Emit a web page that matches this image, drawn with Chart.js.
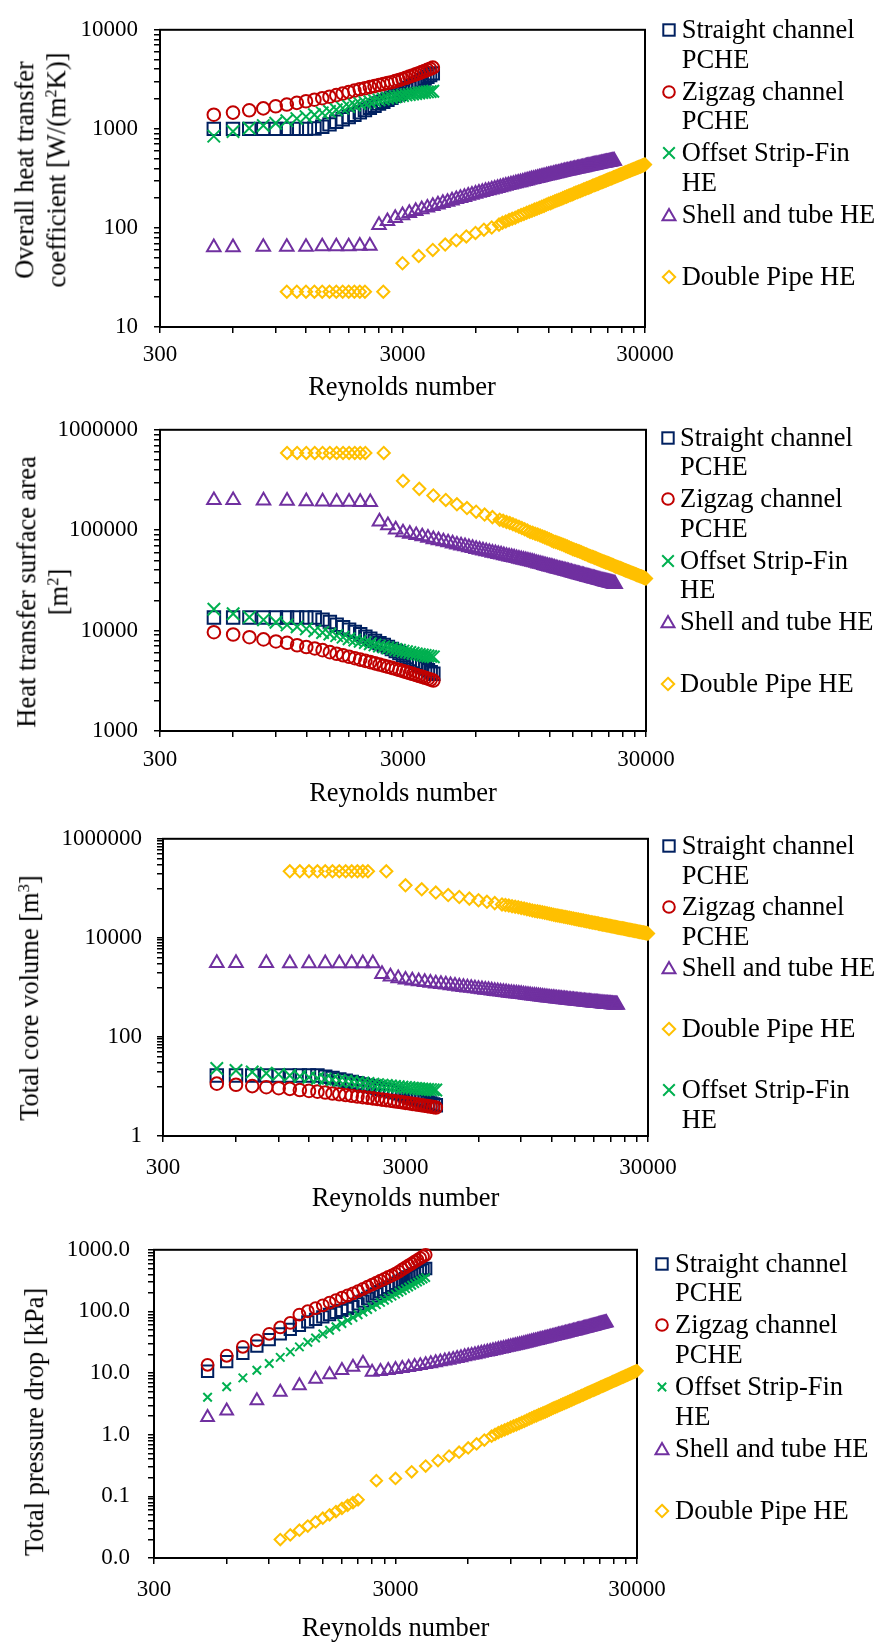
<!DOCTYPE html>
<html><head><meta charset="utf-8">
<script src="https://cdn.jsdelivr.net/npm/chart.js@4.4.1/dist/chart.umd.min.js"></script>
<style>
html,body{margin:0;padding:0;background:#fff;}
body{width:883px;height:1648px;position:relative;overflow:hidden;font-family:"Liberation Serif","Times New Roman",serif;color:#000;}
canvas{position:absolute;left:0;}
.t{position:absolute;white-space:nowrap;font-size:26.5px;line-height:31.7px;text-align:center;}
.yt{transform:translate(-50%,-50%) rotate(-90deg);}
.xt{transform:translate(-50%,-50%);}
.leg{position:absolute;white-space:nowrap;font-size:26.5px;line-height:29.5px;}
sup{font-size:0.62em;line-height:0;vertical-align:0.55em;}
</style></head>
<body>
<script>
// ---------------- categories (Reynolds numbers) ----------------
const pcheRe = [500,600,700,800,900,1000,1100,1200,1300,1400,1500,1600,1700,1800,1900,2000,2100,2200,2300,2400,2500,2600,2700,2800,2900,3000,3100,3200,3300,3400,3500,3600,3700,3800,3900,4000];
const shellRe = [500,600,800,1000,1200,1400,1600,1800,2000,2200,
2400,2600,2800,3000,3200,3400,3600,3800,4000,
4200,4400,4600,4800,5000,5200,5400,5600,5800,6000,
6200,6400,6600,6800,7000,7200,7400,7600,7800,8000,
8200,8400,8600,8800,9000,9200,9400,9600,9800,10000,
10200,10400,10600,10800,11000,11200,11400,11600,11800,12000,
12200,12400,12600,12800,13000,13200,13400,13600,13800,14000,
14200,14400,14600,14800,15000,15200,15400,15600,15800,16000,
16200,16400,16600,16800,17000,17200,17400,17600,17800,18000,
18200,18400,18600,18800,19000,19200,19400,19600,19800,20000,
20200,20400,20600,20800,21000,21200,21400,21600,21800,22000,
22200,22400];
const pipeRe = [1000,1100,1200,1300,1400,1500,1600,1700,1800,1900,2000,2100,2500,
3000,3500,4000,4500,5000,5500,6000,6500,7000,7500,
7750,8000,8250,8500,8750,9000,9250,9500,9750,10000,
10250,10500,10750,11000,11250,11500,11750,12000,12250,12500,
12750,13000,13250,13500,13750,14000,14250,14500,14750,15000,
15250,15500,15750,16000,16250,16500,16750,17000,17250,17500,
17750,18000,18250,18500,18750,19000,19250,19500,19750,20000,
20250,20500,20750,21000,21250,21500,21750,22000,22250,22500,
22750,23000,23250,23500,23750,24000,24250,24500,24750,25000,
25250,25500,25750,26000,26250,26500,26750,27000,27250,27500,
27750,28000,28250,28500,28750,29000,29250,29500,29750,30000];

// ---------------- Panel 1: overall heat transfer coefficient [W/(m2K)] ----------------
const straightU = [1000,1000,1000,1000,1000,1000,1000,1000,1010,1050,1110,1180,1250,1320,1390,1470,1550,1630,1710,1800,1880,1970,2060,2160,2260,2370,2480,2590,2710,2830,2960,3090,3220,3360,3500,3630];
const zigzagU = [1390,1460,1540,1610,1690,1760,1830,1900,1970,2040,2110,2190,2270,2350,2430,2510,2570,2640,2700,2770,2830,2900,2960,3030,3110,3190,3280,3370,3460,3550,3640,3740,3840,3940,4040,4150];
const finU = [845,940,1015,1080,1140,1210,1270,1330,1390,1450,1500,1560,1620,1680,1740,1800,1840,1880,1920,1960,2000,2040,2070,2110,2140,2170,2200,2220,2250,2270,2300,2320,2340,2360,2380,2400];
const shellU = [63.8,63.8,64.3,64.3,64.3,65,65,65,66,66,
107,117,126,134,141,148,154,160,166,
172,178,183,189,195,200,205,211,216,221,
226,230,235,239,244,248,253,257,262,266,
270,274,278,282,286,289,293,297,301,305,
309,312,316,319,323,326,330,333,337,340,
343,346,350,353,356,359,362,366,369,372,
375,378,380,383,386,389,392,394,397,400,
403,405,408,410,413,416,418,421,423,426,
428,431,433,436,438,440,443,445,448,450,
452,454,457,459,461,463,465,468,470,472,
474,476];
const pipeU = [22.7,22.7,22.7,22.7,22.7,22.7,22.7,22.7,22.7,22.7,22.7,22.7,22.7,
44,52,60,68,75,82,89,96,101,108,
113,116,120,124,127,131,135,138,142,146,
149,153,156,160,164,167,171,175,178,182,
186,189,193,196,200,204,207,211,215,218,
222,226,229,233,236,240,244,247,251,255,
258,262,266,269,273,276,280,284,287,291,
295,298,302,306,309,313,316,320,324,327,
331,335,338,342,346,349,353,356,360,364,
367,371,375,378,382,386,389,393,396,400,
404,407,411,415,418,422,426,429,433,436];

// ---------------- Panel 2: heat transfer surface area [m2] ----------------
const straightA = [13500,13500,13500,13500,13500,13500,13500,13500,13500,12860,12160,11440,10800,10230,9710,9180,8710,8280,7890,7500,7180,6850,6550,6250,5970,5700,5440,5210,4980,4770,4560,4370,4190,4020,3860,3720];
const zigzagA = [9640,9150,8600,8170,7800,7560,7150,6870,6640,6390,6100,5880,5680,5490,5310,5140,4990,4850,4720,4590,4470,4360,4250,4150,4050,3950,3860,3770,3690,3610,3530,3460,3390,3320,3250,3180];
const finA = [16300,14700,13600,12800,12100,11400,10900,10400,9950,9550,9250,8900,8600,8300,8050,7820,7600,7400,7200,7030,6880,6740,6610,6490,6370,6250,6150,6050,5960,5870,5790,5720,5650,5590,5530,5480];
const shellA = [199000,199000,197000,196000,194000,193000,192000,192000,191000,190000,
122000,112000,101600,95000,92000,89200,86600,84000,81100,
79200,77300,75500,73600,71700,70300,69000,67600,66300,64900,
63800,62800,61700,60700,59600,58800,57900,57100,56200,55400,
54700,54000,53300,52600,51900,51300,50700,50200,49600,49000,
48400,47800,47200,46600,46100,45600,45000,44500,44000,43500,
43100,42600,42200,41700,41300,40900,40500,40200,39800,39400,
39100,38700,38400,38000,37650,37300,37000,36700,36400,36100,
35800,35500,35300,35000,34700,34400,34200,33900,33700,33400,
33200,33000,32700,32500,32300,32100,31900,31600,31400,31200,
31000,30800,30600,30400,30250,30100,29900,29700,29600,29400,
29200,29060];
const pipeA = [588000,588000,588000,588000,588000,588000,588000,588000,588000,588000,588000,588000,588000,
310000,258000,222000,200000,181000,166000,153000,143000,135000,127000,
124000,120900,117800,114700,111600,108500,105400,102300,99200,96100,
94200,92300,90500,88600,86700,84800,82900,81100,79200,77300,
76100,74800,73600,72300,71100,69800,68600,67300,66100,64800,
63900,63000,62100,61200,60300,59300,58400,57500,56600,55700,
55000,54300,53700,53000,52300,51600,50900,50300,49600,48900,
48400,47800,47300,46800,46300,45700,45200,44700,44100,43600,
43200,42800,42300,41900,41500,41100,40700,40200,39800,39400,
39100,38700,38400,38000,37700,37300,37000,36600,36300,35900,
35600,35300,35000,34700,34500,34200,33900,33600,33300,33000];

// ---------------- Panel 3: total core volume [m3] ----------------
const straightV = [16.6,16.6,16.6,16.6,16.6,16.6,16.6,16.6,16.6,15.76,14.84,13.91,13.07,12.34,11.67,10.98,10.39,9.84,9.34,8.85,8.45,8.03,7.66,7.28,6.93,6.60,6.28,5.99,5.71,5.45,5.20,4.97,4.75,4.54,4.35,4.18];
const zigzagV = [11.40,10.82,10.17,9.67,9.23,8.94,8.46,8.13,7.86,7.56,7.22,6.96,6.72,6.49,6.28,6.08,5.90,5.74,5.58,5.43,5.29,5.16,5.03,4.91,4.79,4.67,4.57,4.46,4.37,4.27,4.18,4.09,4.01,3.93,3.84,3.76];
const finV = [23.1,21.0,19.56,18.50,17.56,16.62,15.95,15.28,14.67,14.13,13.72,13.24,12.83,12.42,12.07,11.75,11.45,11.17,10.89,10.66,10.45,10.25,10.07,9.90,9.73,9.56,9.42,9.28,9.15,9.03,8.91,8.81,8.72,8.63,8.55,8.47];
const shellV = [3100,3100,3100,3050,3050,3050,3050,3050,3050,3050,
1850,1660,1520,1430,1375,1325,1280,1240,1200,
1168,1136,1104,1072,1040,1018,996,974,952,930,
913,896,879,862,845,832,819,806,793,780,
770,760,750,740,730,720,710,700,690,680,
673,666,660,653,646,639,632,626,619,612,
607,602,597,592,587,582,577,572,567,562,
558,554,550,546,543,539,535,531,527,523,
520,517,514,511,508,505,502,499,496,493,
491,488,486,483,481,478,476,473,471,468,
466,464,462,460,459,457,455,453,451,449,
448,446];
const pipeV = [221000,221000,221000,221000,221000,221000,221000,221000,221000,221000,221000,221000,221000,
115000,95500,82300,73000,66800,62000,57500,53500,50300,47300,
46000,44850,43700,42550,41400,40250,39100,37950,36800,35650,
34950,34260,33560,32860,32170,31470,30770,30080,29380,28680,
28220,27750,27290,26820,26360,25900,25430,24970,24500,24040,
23700,23360,23030,22690,22350,22010,21670,21340,21000,20660,
20410,20160,19900,19650,19400,19150,18900,18640,18390,18140,
17940,17750,17550,17360,17160,16960,16770,16570,16380,16180,
16020,15870,15710,15560,15400,15240,15090,14930,14780,14620,
14490,14360,14230,14100,13970,13840,13710,13580,13450,13320,
13210,13100,12990,12890,12780,12670,12560,12460,12350,12240];

// ---------------- Panel 4: total pressure drop [kPa] ----------------
const straightP = [10.7,15.3,21.0,27.4,34.8,43.3,51.3,59.5,67.5,74.5,81.8,89.2,96.7,104.4,112.2,120,133,147,162,177,193,210,227,246,265,285,304,323,343,363,384,405,427,450,473,497];
const zigzagP = [13.6,19.1,26.7,34,43.4,55,65,89,100.8,113,125.8,139,152.7,166.9,181.4,196,214,233,253,273,294,316,338,362,385,410,444,480,518,557,598,641,685,732,780,830];
const finP = [4.05,5.99,8.35,11.13,14.33,17.98,22.07,26.6,31.6,37.1,43.0,49.4,56.3,63.6,71.5,79.8,88.6,97.9,107.8,118.1,129,140.3,152.1,164.5,177.4,190.9,204.8,219.2,234.1,249.7,265.8,282.3,299.5,317.1,335.4,354.2];
const shellP = [1.92,2.44,3.59,4.92,6.25,7.98,9.45,11.1,12.5,14.5,
10.4,10.7,11.1,11.5,11.9,12.4,12.9,13.3,13.8,
14.3,14.8,15.3,15.8,16.3,16.8,17.4,17.9,18.5,19.0,
19.5,20.0,20.6,21.1,21.6,22.1,22.6,23.2,23.7,24.2,
24.7,25.3,25.8,26.4,26.9,27.4,28.0,28.5,29.1,29.6,
30.2,30.7,31.3,31.8,32.4,33.0,33.5,34.1,34.6,35.2,
35.8,36.4,36.9,37.5,38.1,38.7,39.3,39.8,40.4,41.0,
41.6,42.2,42.7,43.3,43.9,44.5,45.1,45.6,46.2,46.8,
47.4,48.0,48.5,49.1,49.7,50.3,50.9,51.4,52.0,52.6,
53.2,53.8,54.4,55.0,55.6,56.2,56.8,57.4,58.0,58.6,
59.2,59.8,60.4,61.0,61.6,62.2,62.8,63.4,64.0,64.6,
65.2,65.8];
const pipeP = [0.0199,0.0237,0.0283,0.0330,0.0384,0.0442,0.0501,0.0566,0.0636,0.0713,0.0790,0.0880,0.18,
0.195,0.25,0.31,0.38,0.45,0.52,0.61,0.71,0.82,0.95,
1.01,1.08,1.14,1.20,1.26,1.33,1.39,1.45,1.51,1.58,
1.65,1.73,1.80,1.88,1.96,2.03,2.11,2.18,2.26,2.33,
2.42,2.51,2.60,2.69,2.78,2.86,2.95,3.04,3.13,3.22,
3.32,3.42,3.52,3.62,3.72,3.82,3.92,4.02,4.12,4.22,
4.33,4.44,4.56,4.67,4.78,4.89,5.00,5.12,5.23,5.34,
5.46,5.58,5.71,5.83,5.95,6.08,6.20,6.32,6.45,6.57,
6.70,6.84,6.97,7.10,7.24,7.37,7.51,7.64,7.77,7.91,
8.05,8.20,8.34,8.49,8.63,8.78,8.92,9.06,9.21,9.35,
9.51,9.66,9.82,9.97,10.13,10.28,10.44,10.59,10.75,10.90];

// ---------------- ticks ----------------
const xTickValues = [300,600,900,1200,1500,1800,2100,2400,2700,3000,6000,9000,12000,15000,18000,21000,24000,27000,30000];
const xMajorValues = [300,3000,30000];
const xMajorLabels = ['300','3000','30000'];
const y1TickValues = [10,20,30,40,50,60,70,80,90,100,200,300,400,500,600,700,800,900,1000,2000,3000,4000,5000,6000,7000,8000,9000,10000];
const y1MajorValues = [10,100,1000,10000];
const y1MajorLabels = ['10','100','1000','10000'];
const y2TickValues = [1000,2000,3000,4000,5000,6000,7000,8000,9000,10000,20000,30000,40000,50000,60000,70000,80000,90000,100000,200000,300000,400000,500000,600000,700000,800000,900000,1000000];
const y2MajorValues = [1000,10000,100000,1000000];
const y2MajorLabels = ['1000','10000','100000','1000000'];
const y3TickValues = [1,10,20,30,40,50,60,70,80,90,100,1000,2000,3000,4000,5000,6000,7000,8000,9000,10000,100000,200000,300000,400000,500000,600000,700000,800000,900000,1000000];
const y3MajorValues = [1,100,10000,1000000];
const y3MajorLabels = ['1','100','10000','1000000'];
const y4TickValues = [0.01,0.02,0.03,0.04,0.05,0.06,0.07,0.08,0.09,0.1,0.2,0.3,0.4,0.5,0.6,0.7,0.8,0.9,1,2,3,4,5,6,7,8,9,10,20,30,40,50,60,70,80,90,100,200,300,400,500,600,700,800,900,1000];
const y4MajorValues = [0.01,0.1,1,10,100,1000];
const y4MajorLabels = ['0.0','0.1','1.0','10.0','100.0','1000.0'];

// ---------------- series look ----------------
const SER = {
  straight:{name:'Straight channel PCHE', lines:['Straight channel','PCHE'], color:'#002060', style:'rect', re:pcheRe},
  zigzag:{name:'Zigzag channel PCHE', lines:['Zigzag channel','PCHE'], color:'#C00000', style:'circle', re:pcheRe},
  fin:{name:'Offset Strip-Fin HE', lines:['Offset Strip-Fin','HE'], color:'#00B050', style:'crossRot', re:pcheRe},
  shell:{name:'Shell and tube HE', lines:['Shell and tube HE'], color:'#7030A0', style:'triangle', re:shellRe},
  pipe:{name:'Double Pipe HE', lines:['Double Pipe HE'], color:'#FFC000', style:'rectRot', re:pipeRe}
};

Chart.defaults.font.family = '"Liberation Serif","Times New Roman",serif';
Chart.defaults.color = '#000';

const framePlugin = {id:'frame', beforeDatasetsDraw(chart){
  const {ctx, chartArea:a} = chart; ctx.save(); ctx.strokeStyle='#000'; ctx.lineWidth=2;
  ctx.strokeRect(a.left, a.top, a.right-a.left, a.bottom-a.top); ctx.restore(); }};

function near(a,b){ return Math.abs(a-b) <= Math.abs(b)*1e-6; }
function labelOf(v, vals, labs){ for(let i=0;i<vals.length;i++){ if(near(v, vals[i])) return labs[i]; } return ''; }

function makePanel(p){
  const cv = document.createElement('canvas');
  cv.width = 883; cv.height = p.h; cv.style.top = p.top + 'px';
  cv.style.width='883px'; cv.style.height=p.h+'px';
  document.body.appendChild(cv);
  const n = p.series.length;
  const datasets = p.series.map((s,i)=>{
    const S = SER[s.key];
    const r = p.radius[S.style];
    return {label:S.name, data:S.re.map((x,j)=>({x:x, y:s.values[j]})),
      pointStyle:S.style, pointRadius:r, pointHoverRadius:r, borderColor:S.color, pointBorderColor:S.color,
      backgroundColor:'rgba(0,0,0,0)', pointBackgroundColor:'rgba(0,0,0,0)', pointBorderWidth:2, borderWidth:2,
      showLine:false, clip:false, order:n-i};
  });
  const tickFont = {family:'"Liberation Serif","Times New Roman",serif', size:23};
  new Chart(cv, {type:'scatter', data:{datasets},
    plugins:[framePlugin],
    options:{responsive:false, animation:false, devicePixelRatio:1, events:[],
      layout:{padding:{left:0, top:p.plotTop, right:883-p.plotRight, bottom:0}},
      plugins:{legend:{display:false}, tooltip:{enabled:false}},
      scales:{
        x:{type:'logarithmic', position:'bottom', min:300, max:30000,
          afterBuildTicks:(s)=>{ s.ticks = xTickValues.map(v=>({value:v})); },
          afterFit:(s)=>{ s.height = p.h - p.plotBottom; },
          ticks:{autoSkip:false, maxRotation:0, minRotation:0, padding:p.xpad, color:'#000', font:tickFont,
            callback:(v)=>labelOf(v, xMajorValues, xMajorLabels)},
          grid:{drawOnChartArea:false, drawTicks:true, tickLength:6, color:'#000', lineWidth:1.5},
          border:{display:true, color:'#000', width:2}},
        y:{type:'logarithmic', position:'left', min:p.ymin, max:p.ymax,
          afterBuildTicks:(s)=>{ s.ticks = p.yTicks.map(v=>({value:v})); },
          afterFit:(s)=>{ s.width = p.plotLeft; },
          ticks:{autoSkip:false, padding:p.ypad, color:'#000', font:tickFont,
            callback:(v)=>labelOf(v, p.yMajor, p.yLabels)},
          grid:{drawOnChartArea:false, drawTicks:true, tickLength:6, color:'#000', lineWidth:1.5},
          border:{display:true, color:'#000', width:2}}
      }}
  });
}

function addText(html, cx, cy, cls){
  const d = document.createElement('div'); d.className = 't ' + cls; d.innerHTML = html;
  d.style.left = cx + 'px'; d.style.top = cy + 'px'; document.body.appendChild(d);
}
function markerSvg(style, color, k){
  let shape = '';
  if(style==='rect'){ const h=5.7*k; shape=`<rect x="${9-h}" y="${9-h}" width="${2*h}" height="${2*h}"/>`; }
  else if(style==='circle'){ shape=`<circle cx="9" cy="9" r="${5.8*k}"/>`; }
  else if(style==='crossRot'){ const h=5.8*k; shape=`<path d="M${9-h} ${9-h}L${9+h} ${9+h}M${9-h} ${9+h}L${9+h} ${9-h}"/>`; }
  else if(style==='triangle'){ shape=`<path d="M9 3L15.5 14.2L2.5 14.2Z"/>`; }
  else if(style==='rectRot'){ shape=`<path d="M9 2.8L15.2 9L9 15.2L2.8 9Z"/>`; }
  return `<svg width="18" height="18" viewBox="0 0 18 18" fill="none" stroke="${color}" stroke-width="2">${shape}</svg>`;
}
function addLegend(keys, mx, tx, y0, dy, smallX){
  keys.forEach((key,i)=>{
    const S = SER[key]; const y = y0 + i*dy;
    const m = document.createElement('div');
    m.style.cssText = `position:absolute;left:${mx-9}px;top:${y-9}px;width:18px;height:18px;`;
    m.innerHTML = markerSvg(S.style, S.color, (smallX && S.style==='crossRot') ? 0.72 : 1);
    document.body.appendChild(m);
    const t = document.createElement('div'); t.className = 'leg';
    t.style.left = tx + 'px'; t.style.top = (y - 15) + 'px';
    t.innerHTML = S.lines.join('<br>'); document.body.appendChild(t);
  });
}

const R1 = {rect:8.8, circle:6.3, crossRot:8.8, triangle:7.8, rectRot:6.1};
const R4 = {rect:8.0, circle:5.9, crossRot:6.0, triangle:7.3, rectRot:5.7};

// Panel 1
makePanel({top:0, h:405, plotTop:15, plotBottom:327, plotLeft:160, plotRight:645, xpad:8, ypad:16,
  ymin:10, ymax:10000, yTicks:y1TickValues, yMajor:y1MajorValues, yLabels:y1MajorLabels, radius:R1,
  series:[{key:'straight',values:straightU},{key:'zigzag',values:zigzagU},{key:'fin',values:finU},{key:'shell',values:shellU},{key:'pipe',values:pipeU}]});
addText('Overall heat transfer<br>coefficient [W/(m<sup>2</sup>K)]', 41, 170, 'yt');
addText('Reynolds number', 402, 387, 'xt');
addLegend(['straight','zigzag','fin','shell','pipe'], 669, 681.7, 30, 61.7, false);

// Panel 2
makePanel({top:400, h:405, plotTop:23, plotBottom:331, plotLeft:160, plotRight:646, xpad:9, ypad:16,
  ymin:1000, ymax:1000000, yTicks:y2TickValues, yMajor:y2MajorValues, yLabels:y2MajorLabels, radius:R1,
  series:[{key:'straight',values:straightA},{key:'zigzag',values:zigzagA},{key:'fin',values:finA},{key:'shell',values:shellA},{key:'pipe',values:pipeA}]});
addText('Heat transfer surface area<br>[m<sup>2</sup>]', 42.5, 591.7, 'yt');
addText('Reynolds number', 403, 793, 'xt');
addLegend(['straight','zigzag','fin','shell','pipe'], 667.5, 680, 437.7, 61.5, false);

// Panel 3
makePanel({top:810, h:400, plotTop:18, plotBottom:326, plotLeft:163, plotRight:648, xpad:12, ypad:15,
  ymin:1, ymax:1000000, yTicks:y3TickValues, yMajor:y3MajorValues, yLabels:y3MajorLabels, radius:R1,
  series:[{key:'straight',values:straightV},{key:'zigzag',values:zigzagV},{key:'shell',values:shellV},{key:'pipe',values:pipeV},{key:'fin',values:finV}]});
addText('Total core volume [m<sup>3</sup>]', 30, 998.3, 'yt');
addText('Reynolds number', 405.5, 1198, 'xt');
addLegend(['straight','zigzag','shell','pipe','fin'], 668.5, 681.7, 846, 61, false);

// Panel 4
makePanel({top:1218, h:430, plotTop:23, plotBottom:340, plotLeft:154, plotRight:637, xpad:12, ypad:18,
  ymin:0.01, ymax:1000, yTicks:y4TickValues, yMajor:y4MajorValues, yLabels:y4MajorLabels, radius:R4,
  series:[{key:'straight',values:straightP},{key:'zigzag',values:zigzagP},{key:'fin',values:finP},{key:'shell',values:shellP},{key:'pipe',values:pipeP}]});
addText('Total pressure drop [kPa]', 35, 1421.7, 'yt');
addText('Reynolds number', 395.5, 1628, 'xt');
addLegend(['straight','zigzag','fin','shell','pipe'], 662.3, 675, 1263.5, 61.8, true);
</script>
</body></html>
